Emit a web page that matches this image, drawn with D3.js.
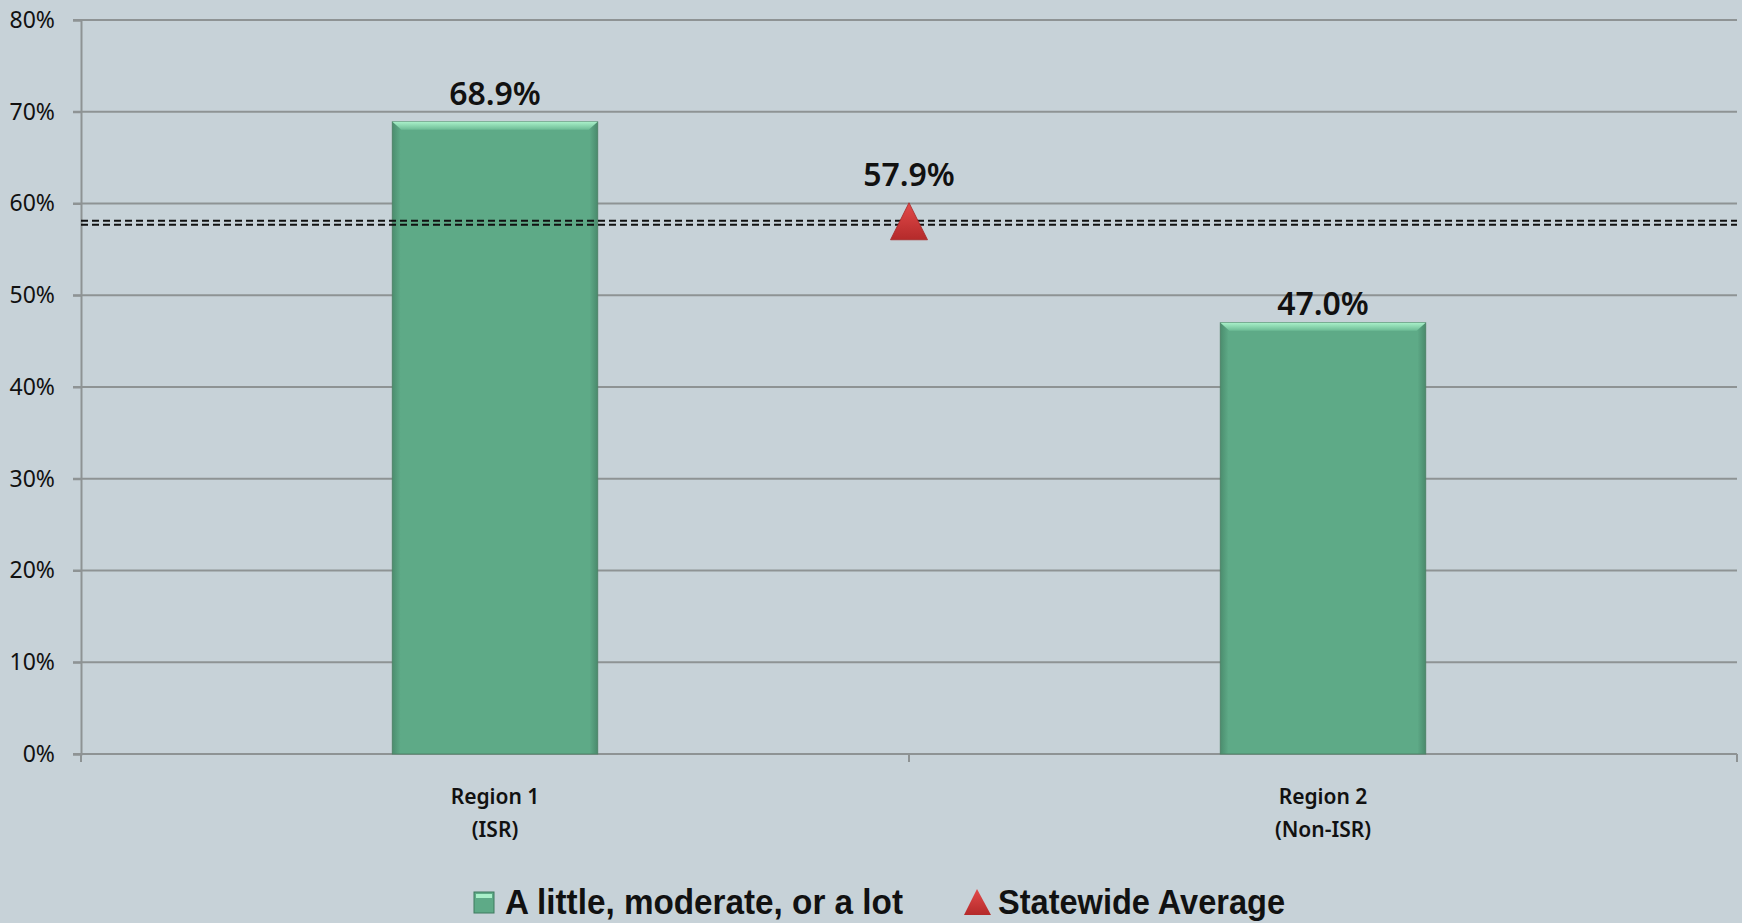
<!DOCTYPE html>
<html>
<head>
  <meta charset="utf-8">
  <title>Region chart</title>
  <script src="https://d3js.org/d3.v7.min.js"></script>
  <style>
    body {
      margin: 0;
      padding: 0;
      background-color: #c7d2d8;
    }
    svg text {
      font-family: "Noto Sans", "Open Sans", sans-serif;
      fill: #111;
    }
    .value-label {
      font-size: 32px;
      font-weight: 600;
    }
    .cat-label {
      font-size: 21px;
      font-weight: 600;
    }
    .legend-label {
      font-family: "Liberation Sans Narrow", "Liberation Sans", sans-serif;
      font-size: 35px;
      font-weight: bold;
    }
  </style>
</head>
<body>
  <div id="chart"></div>
  <script>
    // chart data
    var categories = ["Region 1", "Region 2"];
    var categorySub = ["(ISR)", "(Non-ISR)"];
    var values = [0.689, 0.470];
    var valueLabels = ["68.9%", "47.0%"];
    var statewideAvg = 0.579;
    var statewideLabel = "57.9%";
    var yTicks = [0, 0.1, 0.2, 0.3, 0.4, 0.5, 0.6, 0.7, 0.8];
    var legendNames = ["A little, moderate, or a lot", "Statewide Average"];

    var width = 1742,
        height = 923,
        margin = {top: 20, right: 5, bottom: 169, left: 81};

    var svg = d3.select("#chart")
      .append("svg")
        .attr("width", width)
        .attr("height", height);

    var defs = svg.append("defs");

    // bar gradient (slight bevel look)
    var gBar = defs.append("linearGradient")
        .attr("id", "barGrad").attr("x1", 0).attr("x2", 1).attr("y1", 0).attr("y2", 0);
    gBar.append("stop").attr("offset", "0%").attr("stop-color", "#4b8d6e");
    gBar.append("stop").attr("offset", "4%").attr("stop-color", "#5eaa87");
    gBar.append("stop").attr("offset", "96%").attr("stop-color", "#5eaa87");
    gBar.append("stop").attr("offset", "100%").attr("stop-color", "#4a8a6c");

    var gTop = defs.append("linearGradient")
        .attr("id", "topGrad").attr("x1", 0).attr("x2", 0).attr("y1", 0).attr("y2", 1);
    gTop.append("stop").attr("offset", "0%").attr("stop-color", "#a9f0c9");
    gTop.append("stop").attr("offset", "100%").attr("stop-color", "#6cbb95");

    var gTri = defs.append("linearGradient")
        .attr("id", "triGrad").attr("x1", 0).attr("x2", 0).attr("y1", 0).attr("y2", 1);
    gTri.append("stop").attr("offset", "0%").attr("stop-color", "#e34a4a");
    gTri.append("stop").attr("offset", "100%").attr("stop-color", "#b42a2a");

    var x = d3.scaleBand()
        .domain(categories)
        .range([margin.left, width - margin.right])
        .padding(0);

    var y = d3.scaleLinear()
        .domain([0, 0.8])
        .range([height - margin.bottom, margin.top]);

    var barW = x.bandwidth() * 0.248;

    // gridlines
    svg.append("g")
      .selectAll("line")
      .data(yTicks)
      .enter().append("line")
        .attr("x1", margin.left - 8)
        .attr("x2", width - margin.right)
        .attr("y1", function(d) { return y(d); })
        .attr("y2", function(d) { return y(d); })
        .attr("stroke", "#8e9394")
        .attr("stroke-width", 2);

    // y axis
    var yAxis = svg.append("g")
        .attr("transform", "translate(" + margin.left + ",0)")
        .call(d3.axisLeft(y).tickValues(yTicks).tickFormat(d3.format(".0%")).tickSize(8).tickPadding(18));
    yAxis.select(".domain").attr("stroke", "#8e9394").attr("stroke-width", 2);
    yAxis.selectAll(".tick line").attr("stroke", "#8e9394").attr("stroke-width", 2);
    yAxis.selectAll(".tick text").attr("fill", "#111")
        .style("font-family", "Noto Sans").style("font-size", "23px");

    // x axis ticks at band edges
    var edges = categories.map(function(c) { return x(c); }).concat([x.range()[1]]);
    svg.append("g")
      .selectAll("line")
      .data(edges)
      .enter().append("line")
        .attr("x1", function(d) { return d; })
        .attr("x2", function(d) { return d; })
        .attr("y1", y(0))
        .attr("y2", y(0) + 8)
        .attr("stroke", "#8e9394")
        .attr("stroke-width", 2);

    // bars
    var bars = svg.append("g")
      .selectAll("g")
      .data(values)
      .enter().append("g");

    bars.append("rect")
        .attr("x", function(d, i) { return x(categories[i]) + (x.bandwidth() - barW) / 2; })
        .attr("y", function(d) { return y(d); })
        .attr("width", barW)
        .attr("height", function(d) { return y(0) - y(d); })
        .attr("fill", "url(#barGrad)")
        .attr("stroke", "#4f8468")
        .attr("stroke-width", 1);

    bars.append("path")
        .attr("d", function(d, i) {
          var x0 = x(categories[i]) + (x.bandwidth() - barW) / 2, y0 = y(d);
          return "M" + x0 + "," + y0 + "L" + (x0 + barW) + "," + y0 +
                 "L" + (x0 + barW - 9) + "," + (y0 + 8) + "L" + (x0 + 9) + "," + (y0 + 8) + "Z";
        })
        .attr("fill", "url(#topGrad)");

    bars.append("text")
        .attr("class", "value-label")
        .attr("x", function(d, i) { return x(categories[i]) + x.bandwidth() / 2; })
        .attr("y", function(d, i) { return y(d) - (i === 0 ? 17 : 8); })
        .attr("text-anchor", "middle")
        .text(function(d, i) { return valueLabels[i]; });

    // statewide average dashed double line (drawn over the bars)
    svg.append("g")
      .selectAll("line")
      .data([-2, 2])
      .enter().append("line")
        .attr("x1", margin.left)
        .attr("x2", width - margin.right)
        .attr("y1", function(d) { return y(statewideAvg) + d; })
        .attr("y2", function(d) { return y(statewideAvg) + d; })
        .attr("stroke", "#111")
        .attr("stroke-width", 1.8)
        .attr("stroke-dasharray", "7,4");

    // statewide marker between the bars
    var cx = x.range()[0] + (x.range()[1] - x.range()[0]) / 2,
        cy = y(statewideAvg);
    svg.append("path")
        .attr("d", "M" + cx + "," + (cy - 20) + "L" + (cx + 18.5) + "," + (cy + 17) + "L" + (cx - 18.5) + "," + (cy + 17) + "Z")
        .attr("fill", "url(#triGrad)")
        .attr("stroke", "#a52828")
        .attr("stroke-width", 0.8);
    svg.append("text")
        .attr("class", "value-label")
        .attr("x", cx)
        .attr("y", cy - 37)
        .attr("text-anchor", "middle")
        .text(statewideLabel);

    // category labels
    var cats = svg.append("g")
      .selectAll("text")
      .data(categories)
      .enter().append("text")
        .attr("class", "cat-label")
        .attr("text-anchor", "middle")
        .attr("x", function(d) { return x(d) + x.bandwidth() / 2; })
        .attr("y", y(0) + 50);
    cats.append("tspan").text(function(d) { return d; });
    cats.append("tspan")
        .attr("x", function(d) { return x(d) + x.bandwidth() / 2; })
        .attr("dy", 33)
        .text(function(d, i) { return categorySub[i]; });

    // legend
    var legend = svg.append("g");
    legend.append("rect")
        .attr("x", 474).attr("y", 892).attr("width", 20).attr("height", 21)
        .attr("fill", "#5eaa87").attr("stroke", "#3f7a5e").attr("stroke-width", 1);
    legend.append("rect")
        .attr("x", 476).attr("y", 894).attr("width", 16).attr("height", 4)
        .attr("fill", "#a9f0c9");
    legend.append("text")
        .attr("class", "legend-label")
        .attr("x", 505).attr("y", 914)
        .attr("textLength", 398).attr("lengthAdjust", "spacingAndGlyphs")
        .text(legendNames[0]);
    legend.append("path")
        .attr("d", "M977,889L991,915L964,915Z")
        .attr("fill", "url(#triGrad)");
    legend.append("text")
        .attr("class", "legend-label")
        .attr("x", 998).attr("y", 914)
        .attr("textLength", 287).attr("lengthAdjust", "spacingAndGlyphs")
        .text(legendNames[1]);
  </script>
</body>
</html>
